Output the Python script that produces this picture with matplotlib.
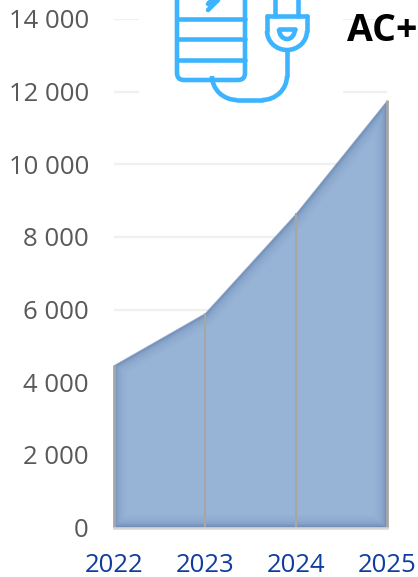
import matplotlib

matplotlib.use("Agg")
import matplotlib.pyplot as plt
from matplotlib.patches import Arc, FancyBboxPatch, Rectangle

years = [2022, 2023, 2024, 2025]
values = [4470, 5900, 8650, 11760]
y_ticks = [0, 2000, 4000, 6000, 8000, 10000, 12000, 14000]
y_labels = ["0", "2 000", "4 000", "6 000", "8 000", "10 000", "12 000", "14 000"]

AREA = "#95b3d7"
SHADE = "#3f5f95"
DROP = "#a6a6a6"
GRID = "#f0f0f0"
ICON = "#3db4ff"
W, H = 418, 577

plt.rcParams["font.family"] = ["Open Sans", "DejaVu Sans"]

figure = plt.figure(figsize=(W / 100, H / 100), dpi=100)
axis = figure.add_axes([114 / W, 1 - 527.5 / H, 273 / W, (527.5 - 19) / H])
axis.set_xlim(2022, 2025)
axis.set_ylim(0, 14000)
for spine in axis.spines.values():
    spine.set_visible(False)

axis.set_yticks(y_ticks, y_labels)
axis.set_xticks(years, [str(y) for y in years])
axis.tick_params(axis="both", length=0)
axis.tick_params(axis="y", labelsize=18.5, labelcolor="#595959", pad=18)
axis.tick_params(axis="x", labelsize=18.5, labelcolor="#0f3d9e", pad=18)
axis.grid(axis="y", color=GRID, lw=1.6, zorder=1)
axis.set_axisbelow(True)

area = axis.fill_between(years, values, 0, color=AREA, lw=0, zorder=2, alpha=0.98)
outline_x = [years[0]] + years + [years[-1], years[0]]
outline_y = [0] + values + [0, 0]
# soft inner shadow, stacked strokes clipped to the area
for width, alpha in [(18, 0.03), (14, 0.04), (10, 0.06), (7, 0.08), (4.5, 0.12), (2.5, 0.16)]:
    (edge,) = axis.plot(outline_x, outline_y, color=SHADE, lw=width, alpha=alpha, zorder=3, solid_joinstyle="miter")
    edge.set_clip_path(area.get_paths()[0], transform=axis.transData)

axis.vlines(years[1:-1], 0, values[1:-1], color=DROP, lw=1.5, zorder=4, clip_on=False)
axis.vlines([years[0], years[-1]], 0, [values[0], values[-1]], color=DROP, lw=2.0, zorder=4, clip_on=False)
axis.plot([years[0], years[-1]], [0, 0], color="#d6d6d6", lw=1.8, zorder=4, clip_on=False)

# overlay in pixel coordinates for the picture pasted on the chart
overlay = figure.add_axes([0, 0, 1, 1], zorder=5)
overlay.set_xlim(0, W)
overlay.set_ylim(H, 0)
overlay.axis("off")
overlay.patch.set_alpha(0)
overlay.add_patch(Rectangle((139, 0), 204, 104, color="white", lw=0))

LW = 3.3
stroke = {"color": ICON, "lw": LW, "solid_capstyle": "round"}
overlay.add_patch(
    FancyBboxPatch(
        (177, -30), 68, 110, boxstyle="round,pad=0,rounding_size=7", fc="none", ec=ICON, lw=LW
    )
)
for y in [19, 39, 60]:
    overlay.plot([177, 245], [y, y], **stroke)
overlay.plot([214, 208, 218, 208], [-2, 4, 0, 10], **stroke)
# cable
overlay.plot([287, 287], [51, 76], **stroke)
overlay.add_patch(Arc((262, 76), 50, 48, theta1=0, theta2=90, ec=ICON, lw=LW))
overlay.plot([237, 262], [100, 100], **stroke)
overlay.add_patch(Arc((237, 76), 50, 48, theta1=90, theta2=180, ec=ICON, lw=LW))
# plug
overlay.plot([275, 275], [0, 16], **stroke)
overlay.plot([298, 298], [0, 16], **stroke)
overlay.plot([267, 307], [16, 16], **stroke)
overlay.plot([267, 267], [16, 31], **stroke)
overlay.plot([307, 307], [16, 31], **stroke)
overlay.add_patch(Arc((287, 31), 40, 38, theta1=0, theta2=180, ec=ICON, lw=LW))
overlay.plot([279, 295], [29, 29], **stroke)
overlay.add_patch(Arc((287, 29), 16, 20, theta1=0, theta2=180, ec=ICON, lw=LW))

overlay.text(347, 31, "AC+", fontsize=27, fontweight="bold", color="black", va="center", ha="left")

figure.savefig("out.png", dpi=100)
plt.close(figure)
